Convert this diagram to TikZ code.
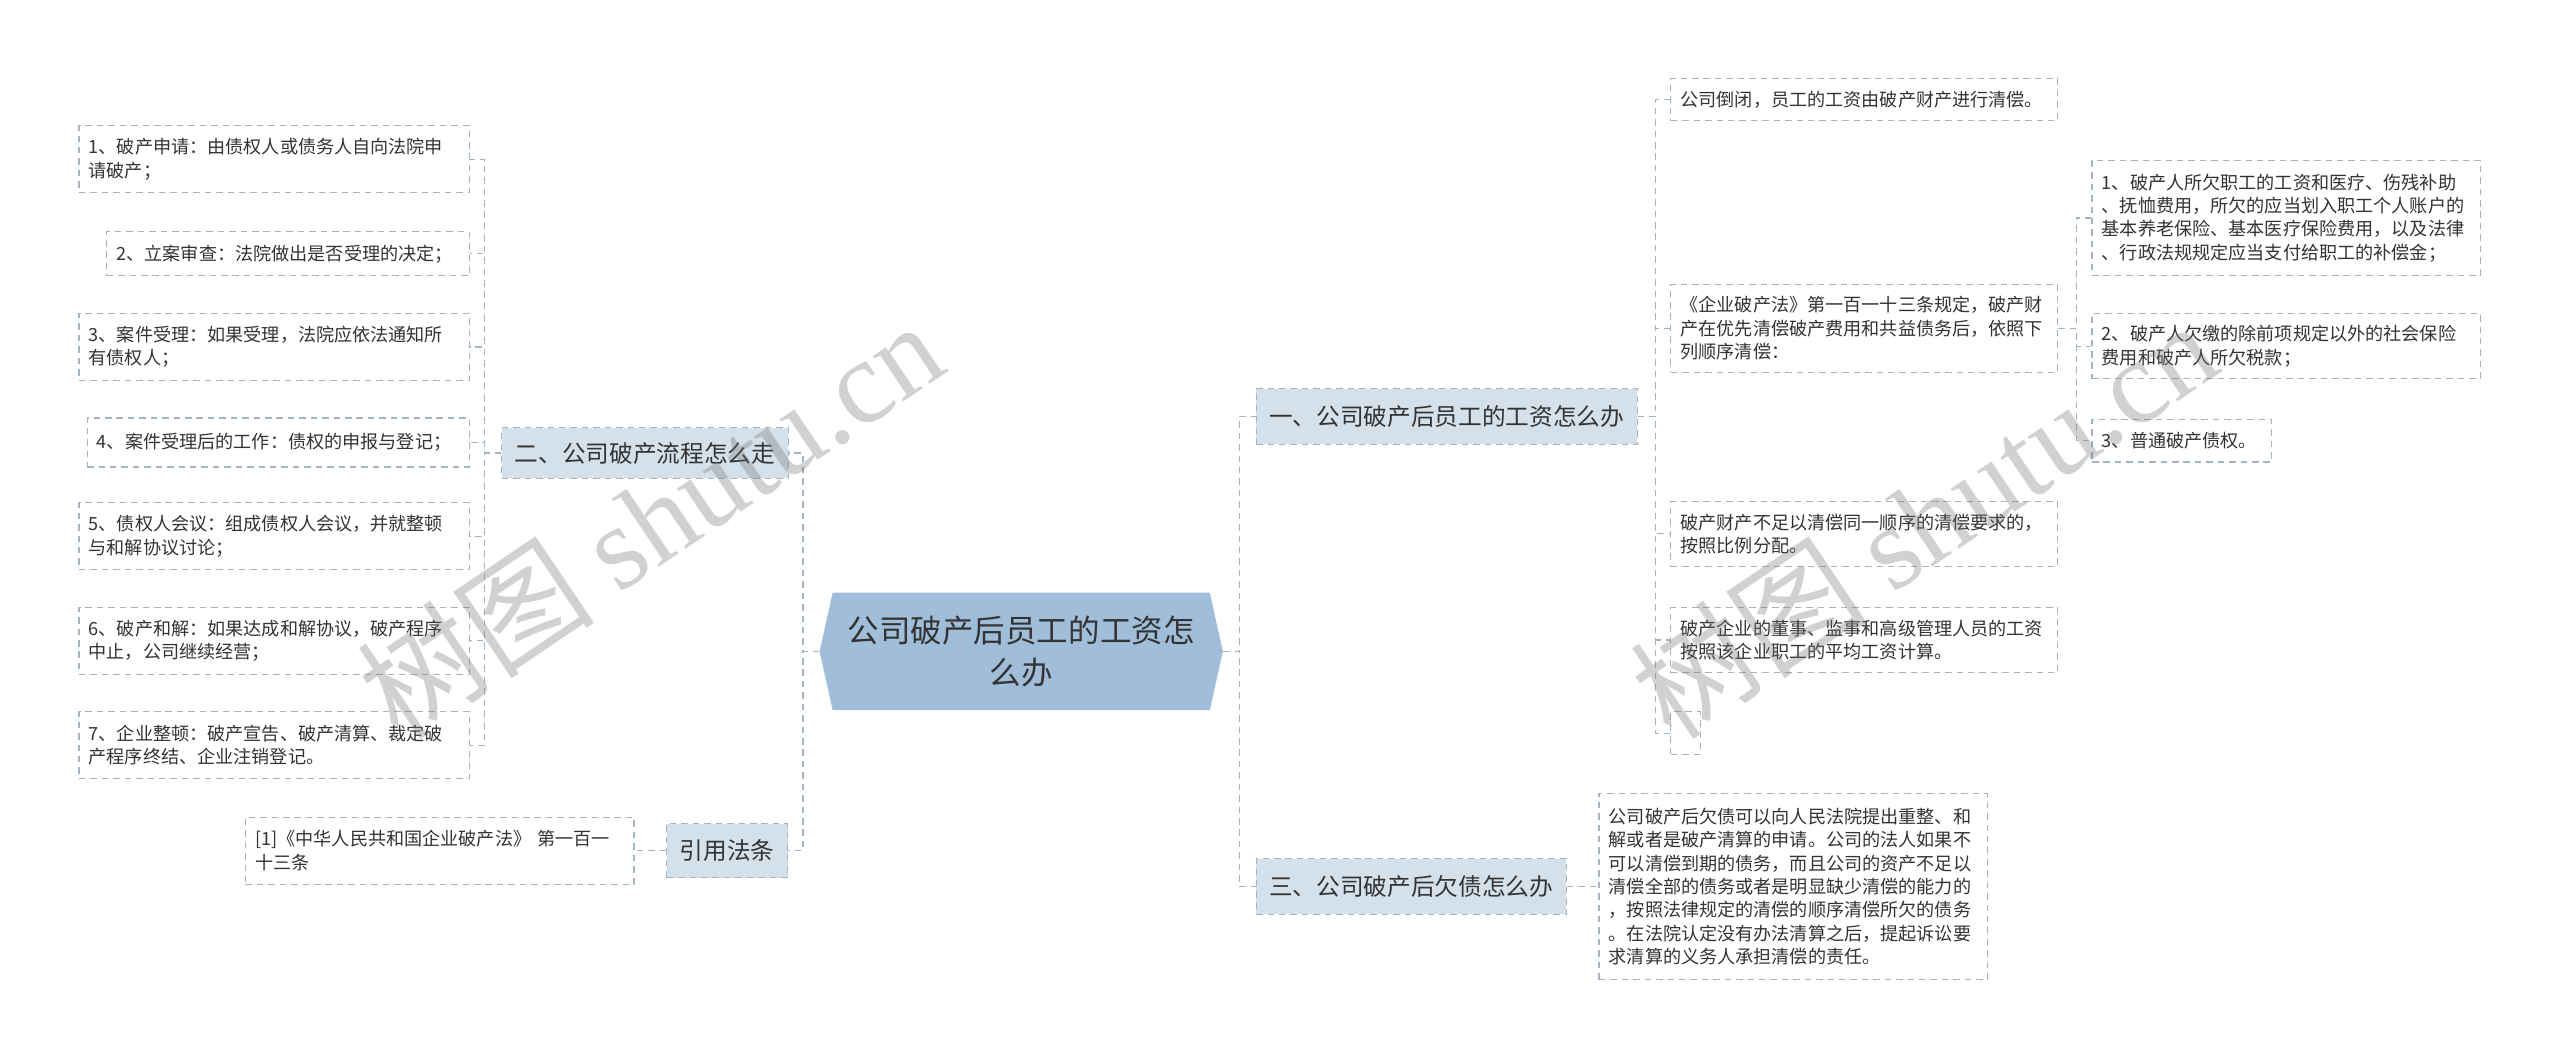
\documentclass[tikz,border=0pt]{standalone}
\usepackage{fontspec}
\setmainfont{Noto Sans CJK SC}
\newfontfamily\wmserif{Liberation Serif}
\newfontfamily\wmcjk{Noto Sans CJK SC}
\definecolor{lineC}{HTML}{A3B4C4}
\definecolor{brfill}{HTML}{D4E0EA}
\definecolor{rootfill}{HTML}{A0BEDA}
\definecolor{txt}{HTML}{333333}
\tikzset{
  leafbox/.style={draw=lineC, dash pattern=on 4pt off 3pt, line width=0.7pt, fill=white,
    inner xsep=6pt, inner ysep=1pt, align=left, anchor=west, text=txt,
    font=\fontsize{11.1}{14.3}\selectfont},
  branchbox/.style={draw=lineC, dash pattern=on 4pt off 3pt, line width=0.7pt, fill=brfill,
    inner xsep=8pt, inner ysep=1pt, anchor=west, text=txt, minimum height=34pt,
    font=\fontsize{14.5}{18}\selectfont},
  rootbox/.style={inner sep=0pt, minimum width=247pt, minimum height=72pt, align=center,
    text=txt, font=\fontsize{19.3}{25.5}\selectfont},
  conn/.style={draw=lineC, dash pattern=on 4pt off 3pt, line width=0.7pt},
  wmark/.style={text=black!55, text opacity=0.32, inner sep=0pt}
}
\begin{document}
\begin{tikzpicture}[x=1pt,y=-1pt]
\useasboundingbox[fill=white] (0,0) rectangle (1568,648);

% root
\fill[rootfill] (502,399) -- (510,363) -- (741,363) -- (749,399) -- (741,435) -- (510,435) -- cycle;
\node[rootbox] (root) at (625.5,399) {公司破产后员工的工资怎\\么办};

% left branches
\node[branchbox, minimum height=31pt] (b2) at (307,277.5) {二、公司破产流程怎么走};
\node[branchbox, minimum height=33pt] (bref) at (408,521) {引用法条};

\node[leafbox, text width=227pt, minimum height=41pt] (l1) at (48,97.5) {1、破产申请：由债权人或债务人自向法院申\\请破产；};
\node[leafbox, text width=210pt, minimum height=27pt] (l2) at (65,155.5) {2、立案审查：法院做出是否受理的决定；};
\node[leafbox, text width=227pt, minimum height=41pt] (l3) at (48,212.5) {3、案件受理：如果受理，法院应依法通知所\\有债权人；};
\node[leafbox, text width=222pt, minimum height=30pt] (l4) at (53,271) {4、案件受理后的工作：债权的申报与登记；};
\node[leafbox, text width=227pt, minimum height=41pt] (l5) at (48,328.5) {5、债权人会议：组成债权人会议，并就整顿\\与和解协议讨论；};
\node[leafbox, text width=227pt, minimum height=41pt] (l6) at (48,392.5) {6、破产和解：如果达成和解协议，破产程序\\中止，公司继续经营；};
\node[leafbox, text width=227pt, minimum height=41pt] (l7) at (48,456.5) {7、企业整顿：破产宣告、破产清算、裁定破\\产程序终结、企业注销登记。};
\node[leafbox, text width=226pt, minimum height=41pt] (ref1) at (150,521) {[1]《中华人民共和国企业破产法》 第一百一\\十三条};

% right branches
\node[branchbox] (b1) at (769,255) {一、公司破产后员工的工资怎么办};
\node[branchbox] (b3) at (769,543) {三、公司破产后欠债怎么办};

\node[leafbox, text width=225pt, minimum height=26pt] (ra) at (1023,61) {公司倒闭，员工的工资由破产财产进行清偿。};
\node[leafbox, text width=225pt, minimum height=54pt] (rb) at (1023,201) {《企业破产法》第一百一十三条规定，破产财\\产在优先清偿破产费用和共益债务后，依照下\\列顺序清偿：};
\node[leafbox, text width=226pt, minimum height=70pt] (c1) at (1281,133.5) {1、破产人所欠职工的工资和医疗、伤残补助\\、抚恤费用，所欠的应当划入职工个人账户的\\基本养老保险、基本医疗保险费用，以及法律\\、行政法规规定应当支付给职工的补偿金；};
\node[leafbox, text width=226pt, minimum height=40pt] (c2) at (1281,212) {2、破产人欠缴的除前项规定以外的社会保险\\费用和破产人所欠税款；};
\node[leafbox, text width=98pt, minimum height=26pt] (c3) at (1281,270) {3、普通破产债权。};
\node[leafbox, text width=225pt, minimum height=40pt] (rd) at (1023,327) {破产财产不足以清偿同一顺序的清偿要求的，\\按照比例分配。};
\node[leafbox, text width=225pt, minimum height=40pt] (re) at (1023,392) {破产企业的董事、监事和高级管理人员的工资\\按照该企业职工的平均工资计算。};
\node[leafbox, inner xsep=0pt, minimum width=18pt, minimum height=26pt] (rf) at (1023,449) {};
\node[leafbox, text width=226pt, minimum height=114pt] (rg) at (979,543) {公司破产后欠债可以向人民法院提出重整、和\\解或者是破产清算的申请。公司的法人如果不\\可以清偿到期的债务，而且公司的资产不足以\\清偿全部的债务或者是明显缺少清偿的能力的\\，按照法律规定的清偿的顺序清偿所欠的债务\\。在法院认定没有办法清算之后，提起诉讼要\\求清算的义务人承担清偿的责任。};

% connectors
\draw[conn] (root.west) -- ++(-10,0) |- (b2.east);
\draw[conn] (root.west) -- ++(-10,0) |- (bref.east);
\draw[conn] (root.east) -- ++(10,0) |- (b1.west);
\draw[conn] (root.east) -- ++(10,0) |- (b3.west);
\foreach \n in {l1,l2,l3,l4,l5,l6,l7}
  \draw[conn] (b2.west) -- ++(-10,0) |- (\n.east);
\draw[conn] (bref.west) -- (ref1.east);
\foreach \n in {ra,rb,rd,re,rf}
  \draw[conn] (b1.east) -- ++(11,0) |- (\n.west);
\foreach \n in {c1,c2,c3}
  \draw[conn] (rb.east) -- ++(11,0) |- (\n.west);
\draw[conn] (b3.east) -- (rg.west);

% watermarks
\node[wmark, rotate=34] (wm1) at (398,318) {\fontsize{73}{73}\selectfont\wmcjk 树图 \wmserif shutu.cn};
\node[wmark, rotate=34] (wm2) at (1178,318) {\fontsize{73}{73}\selectfont\wmcjk 树图 \wmserif shutu.cn};
\end{tikzpicture}
\end{document}
